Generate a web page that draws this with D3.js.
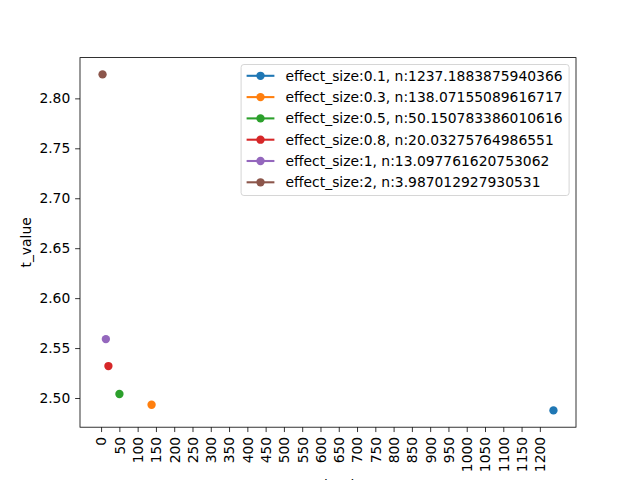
<!DOCTYPE html>
<html>
<head>
<meta charset="utf-8">
<script src="https://cdn.jsdelivr.net/npm/d3@7"></script>
<style>
  body { margin: 0; background: #fff; }
  svg { display: block; font-family: "DejaVu Sans", sans-serif; }
</style>
</head>
<body>
<svg id="chart" width="640" height="480"></svg>
<script>
// Values
const effectSizes = ["0.1", "0.3", "0.5", "0.8", "1", "2"];
const nValues = [1237.1883875940366, 138.07155089616717, 50.150783386010616,
  20.03275764986551, 13.097761620753062, 3.987012927930531];
const tValues = [2.4876, 2.4933, 2.504, 2.532, 2.559, 2.824];
const colors = ["#1f77b4", "#ff7f0e", "#2ca02c", "#d62728", "#9467bd", "#8c564b"];
const xTicks = d3.range(0, 1201, 50);
const yTicks = [2.50, 2.55, 2.60, 2.65, 2.70, 2.75, 2.80];

const width = 640, height = 480;
const margin = { left: 80, right: 64, top: 57.6, bottom: 52.8 };
const fs = 13.89; // 10pt

const svg = d3.select("#chart");

// matplotlib style 5% padding on the data range
const xExt = d3.extent(nValues), yExt = d3.extent(tValues);
const xPad = (xExt[1] - xExt[0]) * 0.05, yPad = (yExt[1] - yExt[0]) * 0.05;

const x = d3.scaleLinear()
  .domain([xExt[0] - xPad, xExt[1] + xPad])
  .range([margin.left, width - margin.right]);
const y = d3.scaleLinear()
  .domain([yExt[0] - yPad, yExt[1] + yPad])
  .range([height - margin.bottom, margin.top]);

// Axes
const xAxis = svg.append("g")
  .attr("transform", `translate(0,${height - margin.bottom})`)
  .call(d3.axisBottom(x).tickValues(xTicks).tickSize(4.86).tickPadding(4.86).tickFormat(d3.format("d")));
xAxis.selectAll("text")
  .attr("transform", "rotate(-90)")
  .attr("x", -9.7)
  .attr("y", 0)
  .attr("dy", "0.35em")
  .attr("text-anchor", "end");

svg.append("g")
  .attr("transform", `translate(${margin.left},0)`)
  .call(d3.axisLeft(y).tickValues(yTicks).tickSize(4.86).tickPadding(4.86).tickFormat(d3.format(".2f")));

svg.selectAll(".domain").remove();
svg.selectAll(".tick line").attr("stroke", "#000").attr("stroke-width", 0.8);
svg.selectAll(".tick text").attr("fill", "#000").style("font-size", fs + "px")
  .style("font-family", "'DejaVu Sans', sans-serif");

// Axes frame
svg.append("rect")
  .attr("x", margin.left)
  .attr("y", margin.top)
  .attr("width", width - margin.left - margin.right)
  .attr("height", height - margin.top - margin.bottom)
  .attr("fill", "none")
  .attr("stroke", "#000")
  .attr("stroke-width", 0.8);

// Axis labels (x label sits mostly below the page edge, as in the reference)
svg.append("text")
  .attr("x", (margin.left + width - margin.right) / 2)
  .attr("y", 490)
  .attr("text-anchor", "middle")
  .style("font-size", fs + "px")
  .text("sample_size");

svg.append("text")
  .attr("transform", `translate(31,${(margin.top + height - margin.bottom) / 2}) rotate(-90)`)
  .attr("text-anchor", "middle")
  .style("font-size", fs + "px")
  .text("t_value");

// Points
svg.append("g")
  .selectAll("circle")
  .data(nValues)
  .join("circle")
  .attr("cx", d => x(d))
  .attr("cy", (d, i) => y(tValues[i]))
  .attr("r", 4.17)
  .attr("fill", (d, i) => colors[i]);

// Legend
const rowH = 21.3;
const legW = 328, legH = 131;
const legX = width - margin.right - 6.9 - legW, legY = margin.top + 6.9;
const legend = svg.append("g");
legend.append("rect")
  .attr("x", legX).attr("y", legY)
  .attr("width", legW).attr("height", legH)
  .attr("rx", 2.8)
  .attr("fill", "#fff").attr("fill-opacity", 0.8)
  .attr("stroke", "#cccccc").attr("stroke-width", 0.8);

const rows = legend.selectAll("g.row")
  .data(effectSizes)
  .join("g")
  .attr("class", "row")
  .attr("transform", (d, i) => `translate(${legX},${legY + 11.3 + i * rowH})`);

rows.append("line")
  .attr("x1", 5.5).attr("x2", 33.3)
  .attr("stroke", (d, i) => colors[i]).attr("stroke-width", 2.08);
rows.append("circle")
  .attr("cx", 19.4).attr("r", 4.17)
  .attr("fill", (d, i) => colors[i]);
rows.append("text")
  .attr("x", 44.4)
  .attr("dy", "0.35em")
  .style("font-size", fs + "px")
  .text((d, i) => `effect_size:${d}, n:${nValues[i]}`);
</script>
</body>
</html>
